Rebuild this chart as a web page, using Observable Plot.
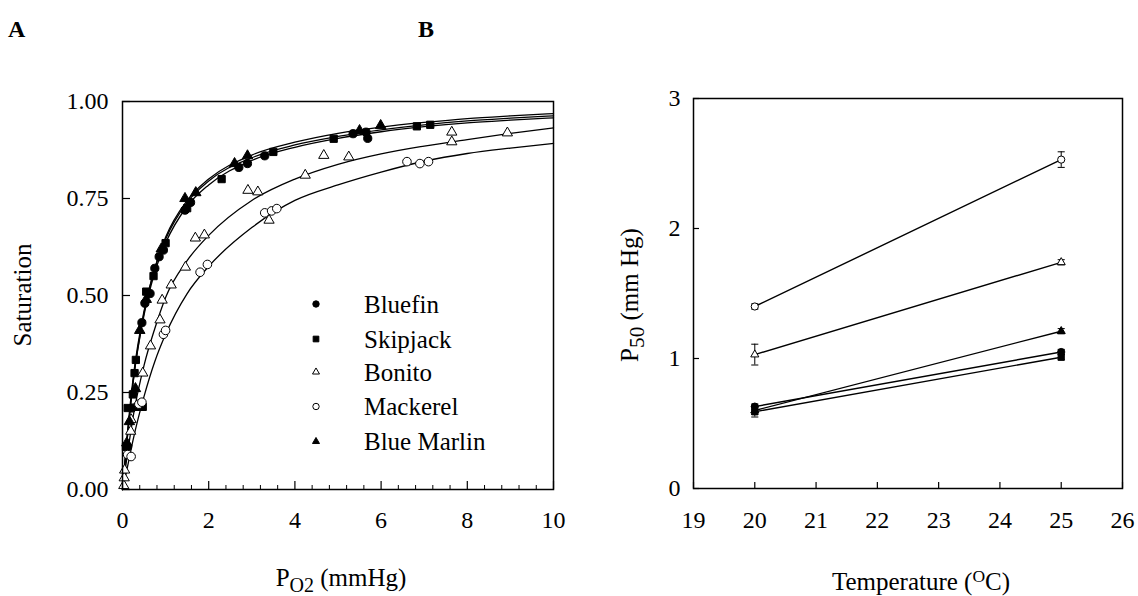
<!DOCTYPE html>
<html><head><meta charset="utf-8">
<script src="https://cdn.jsdelivr.net/npm/d3@7"></script>
<script src="https://cdn.jsdelivr.net/npm/@observablehq/plot@0.6"></script>
<style>
html,body{margin:0;padding:0;background:#fff;}
#wrap{position:relative;width:1138px;height:596px;font-family:'Liberation Serif',serif;color:#000;overflow:hidden;background:#fff}
.abs{position:absolute;white-space:nowrap;line-height:1.25;font-family:'Liberation Serif',serif}
.rot{transform:translate(-50%,-50%) rotate(-90deg)}
.lo{position:relative;top:0.3em}
.hi{position:relative;top:-0.45em}
</style></head><body><div id="wrap"></div>
<script>
// ---------------- Panel A data ----------------
const speciesNames = ["Bluefin", "Skipjack", "Bonito", "Mackerel", "Blue Marlin"];
const pO2Grid      = [0, 0.1, 0.25, 0.5, 0.75, 1, 1.5, 2, 3, 4, 5, 6, 7, 8, 9, 10];
const fitBluefin   = [0, 0.12, 0.28, 0.45, 0.56, 0.635, 0.73, 0.785, 0.848, 0.882, 0.905, 0.922, 0.935, 0.945, 0.952, 0.958];
const fitSkipjack  = [0, 0.13, 0.29, 0.46, 0.57, 0.645, 0.74, 0.795, 0.855, 0.888, 0.91, 0.927, 0.94, 0.95, 0.957, 0.963];
const fitBonito    = [0, 0.08, 0.19, 0.32, 0.415, 0.495, 0.59, 0.655, 0.745, 0.80, 0.838, 0.865, 0.885, 0.902, 0.918, 0.932];
const fitMackerel  = [0, 0.05, 0.13, 0.24, 0.33, 0.40, 0.505, 0.575, 0.675, 0.745, 0.785, 0.818, 0.846, 0.866, 0.88, 0.892];
const fitMarlin    = [0, 0.12, 0.28, 0.455, 0.57, 0.65, 0.745, 0.80, 0.862, 0.895, 0.918, 0.934, 0.946, 0.956, 0.963, 0.969];

const ptsBluefin  = [[0.12,0.11],[0.22,0.21],[0.45,0.43],[0.52,0.48],[0.64,0.505],[0.75,0.57],[0.85,0.60],[0.95,0.617],[1.45,0.72],[1.58,0.74],[2.7,0.83],[2.9,0.84],[3.3,0.86],[5.35,0.917],[5.65,0.921],[5.69,0.905]];
const ptsSkipjack = [[0.08,0.11],[0.12,0.21],[0.24,0.245],[0.28,0.30],[0.31,0.334],[0.35,0.213],[0.42,0.213],[0.47,0.213],[0.55,0.51],[0.72,0.55],[1.0,0.635],[1.5,0.725],[2.3,0.80],[3.5,0.87],[4.9,0.904],[6.83,0.936],[7.14,0.94]];
const ptsBonito   = [[0.03,0.01],[0.04,0.03],[0.05,0.05],[0.19,0.15],[0.2,0.18],[0.47,0.30],[0.65,0.37],[0.87,0.437],[0.92,0.488],[1.13,0.527],[1.46,0.573],[1.69,0.648],[1.9,0.656],[2.91,0.771],[3.14,0.767],[3.4,0.694],[4.24,0.81],[4.67,0.861],[5.25,0.857],[7.64,0.921],[7.64,0.896],[8.93,0.919]];
const ptsMackerel = [[0.12,0.09],[0.2,0.085],[0.38,0.22],[0.45,0.225],[0.95,0.40],[1.0,0.41],[1.8,0.56],[1.97,0.58],[3.3,0.713],[3.46,0.718],[3.58,0.724],[6.6,0.845],[6.9,0.84],[7.1,0.845]];
const ptsMarlin   = [[0.1,0.12],[0.16,0.175],[0.3,0.26],[0.4,0.41],[0.55,0.49],[0.9,0.62],[1.45,0.75],[1.7,0.765],[2.6,0.84],[2.9,0.86],[5.5,0.925],[5.99,0.938]];

const xMajorA = [0, 2, 4, 6, 8, 10];
const xMinorA = [0.4, 0.8, 1.2, 1.6, 2.4, 2.8, 3.2, 3.6, 4.4, 4.8, 5.2, 5.6, 6.4, 6.8, 7.2, 7.6, 8.4, 8.8, 9.2, 9.6];
const yMajorA = [0, 0.25, 0.5, 0.75, 1];
const yTickLabelsA = ["0.00", "0.25", "0.50", "0.75", "1.00"];

// ---------------- Panel B data ----------------
const tempsB       = [20, 25];
const p50Bluefin   = [0.63, 1.05];
const p50Skipjack  = [0.59, 1.01];
const p50Bonito    = [1.03, 1.74];
const p50Mackerel  = [1.40, 2.53];
const p50Marlin    = [0.60, 1.21];
const errBluefin   = [0.02, 0.02];
const errSkipjack  = [0.04, 0.02];
const errBonito    = [0.08, 0.02];
const errMackerel  = [0.02, 0.06];
const errMarlin    = [0.03, 0.02];
const xTicksB = [19, 20, 21, 22, 23, 24, 25, 26];
const yTicksB = [0, 1, 2, 3];

// ---------------- build tables ----------------
const fits = {"Bluefin": fitBluefin, "Skipjack": fitSkipjack, "Bonito": fitBonito, "Mackerel": fitMackerel, "Blue Marlin": fitMarlin};
const pts  = {"Bluefin": ptsBluefin, "Skipjack": ptsSkipjack, "Bonito": ptsBonito, "Mackerel": ptsMackerel, "Blue Marlin": ptsMarlin};
const p50  = {"Bluefin": p50Bluefin, "Skipjack": p50Skipjack, "Bonito": p50Bonito, "Mackerel": p50Mackerel, "Blue Marlin": p50Marlin};
const errs = {"Bluefin": errBluefin, "Skipjack": errSkipjack, "Bonito": errBonito, "Mackerel": errMackerel, "Blue Marlin": errMarlin};
const symbolOf = {"Bluefin": "circle", "Skipjack": "square", "Bonito": "triangle", "Mackerel": "circle", "Blue Marlin": "triangle"};
const filledOf = {"Bluefin": true, "Skipjack": true, "Bonito": false, "Mackerel": false, "Blue Marlin": true};
const rA = {"Bluefin": 4.1, "Skipjack": 4.1, "Bonito": 3.8, "Mackerel": 4.3, "Blue Marlin": 3.9};
const rB = {"Bluefin": 3.6, "Skipjack": 3.5, "Bonito": 3.0, "Mackerel": 3.6, "Blue Marlin": 3.0};

const curveRows = speciesNames.flatMap(sp => pO2Grid.map((x, i) => ({sp, x, s: fits[sp][i]})));
const pointRows = speciesNames.flatMap(sp => pts[sp].map(([x, s]) => ({sp, x, s})));
const bRows = speciesNames.flatMap(sp => tempsB.map((t, i) => ({sp, t, v: p50[sp][i], e: errs[sp][i]})));

const serif = "Liberation Serif";
const capSymbol = {draw(ctx, size) { const w = Math.sqrt(size) / 2; ctx.moveTo(-w, 0); ctx.lineTo(w, 0); }};

// ---------------- Panel A ----------------
const A = {w: 570, l: 122, r: 17, t: 101, b: 107};
const aPlotW = A.w - A.l - A.r, aPlotH = 596 - A.t - A.b;
const chartA = Plot.plot({
  width: A.w, height: 596,
  marginLeft: A.l, marginRight: A.r, marginTop: A.t, marginBottom: A.b,
  style: {fontFamily: serif, fontSize: "24px", color: "#000", background: "none", overflow: "visible"},
  x: {domain: [0, 10], label: null},
  y: {domain: [0, 1], label: null},
  marks: [
    Plot.axisX({ticks: xMajorA, tickFormat: d => String(d), tickSize: 0, tickPadding: 21, label: null, fontSize: 24, fontFamily: serif}),
    Plot.axisY({ticks: yMajorA, tickFormat: (d, i) => yTickLabelsA[i], tickSize: 0, tickPadding: 14, label: null, fontSize: 24, fontFamily: serif}),
    Plot.line(curveRows, {x: "x", y: "s", z: "sp", curve: "monotone-x", stroke: "black", strokeWidth: 1.3}),
    ...speciesNames.map(sp => Plot.dot(pointRows.filter(d => d.sp === sp), {
      x: "x", y: "s", symbol: symbolOf[sp], r: rA[sp],
      fill: filledOf[sp] ? "black" : "white", stroke: "black", strokeWidth: 1
    })),
    Plot.tickX(xMinorA, {x: d => d, insetTop: aPlotH - 4, strokeWidth: 1}),
    Plot.tickX(xMajorA, {x: d => d, insetTop: aPlotH - 8, strokeWidth: 1.2}),
    Plot.tickY(yMajorA, {y: d => d, insetRight: aPlotW - 8, strokeWidth: 1.2}),
    Plot.frame({stroke: "black", strokeWidth: 1.5})
  ]
});

// ---------------- Panel B ----------------
const B = {x0: 570, w: 568, l: 123, r: 16, t: 98, b: 108};
const bPlotW = B.w - B.l - B.r, bPlotH = 596 - B.t - B.b;
const chartB = Plot.plot({
  width: B.w, height: 596,
  marginLeft: B.l, marginRight: B.r, marginTop: B.t, marginBottom: B.b,
  style: {fontFamily: serif, fontSize: "24px", color: "#000", background: "none", overflow: "visible"},
  x: {domain: [19, 26], label: null},
  y: {domain: [0, 3], label: null},
  marks: [
    Plot.axisX({ticks: xTicksB, tickFormat: d => String(d), tickSize: 0, tickPadding: 22, label: null, fontSize: 24, fontFamily: serif}),
    Plot.axisY({ticks: yTicksB, tickFormat: d => String(d), tickSize: 0, tickPadding: 13, label: null, fontSize: 24, fontFamily: serif}),
    Plot.line(bRows, {x: "t", y: "v", z: "sp", stroke: "black", strokeWidth: 1.4}),
    Plot.ruleX(bRows, {x: "t", y1: d => d.v - d.e, y2: d => d.v + d.e, stroke: "black", strokeWidth: 1}),
    Plot.dot(bRows, {x: "t", y: d => d.v + d.e, symbol: capSymbol, r: 4, stroke: "black", fill: "none", strokeWidth: 1}),
    Plot.dot(bRows, {x: "t", y: d => d.v - d.e, symbol: capSymbol, r: 4, stroke: "black", fill: "none", strokeWidth: 1}),
    ...speciesNames.map(sp => Plot.dot(bRows.filter(d => d.sp === sp), {
      x: "t", y: "v", symbol: symbolOf[sp], r: rB[sp],
      fill: filledOf[sp] ? "black" : "white", stroke: "black", strokeWidth: 1
    })),
    Plot.tickX(xTicksB, {x: d => d, insetTop: bPlotH - 6, strokeWidth: 1.2}),
    Plot.tickY(yTicksB, {y: d => d, insetRight: bPlotW - 6, strokeWidth: 1.2}),
    Plot.frame({stroke: "black", strokeWidth: 1.5})
  ]
});

const wrap = document.getElementById("wrap");
chartA.style.position = "absolute"; chartA.style.left = "0px"; chartA.style.top = "0px";
chartB.style.position = "absolute"; chartB.style.left = B.x0 + "px"; chartB.style.top = "0px";
wrap.appendChild(chartA);
wrap.appendChild(chartB);

// ---------------- text overlays ----------------
function addText(html, css, cls) {
  const d = document.createElement("div");
  d.className = "abs" + (cls ? " " + cls : "");
  d.innerHTML = html;
  Object.assign(d.style, css);
  wrap.appendChild(d);
  return d;
}
addText("A", {left: "8px", top: "14px", fontSize: "24px", fontWeight: "bold"});
addText("B", {left: "418px", top: "14px", fontSize: "24px", fontWeight: "bold"});
addText("Saturation", {left: "23px", top: "295px", fontSize: "25px"}, "rot");
addText('P<span class="lo" style="font-size:0.8em">O2</span> (mmHg)', {left: "341px", top: "578px", fontSize: "25px", transform: "translate(-50%,-50%)"});
addText('P<span class="lo" style="font-size:0.85em">50</span> (mm Hg)', {left: "630px", top: "295px", fontSize: "25px"}, "rot");
addText('Temperature (<span class="hi" style="font-size:0.7em">O</span>C)', {left: "921px", top: "582px", fontSize: "25px", transform: "translate(-50%,-50%)"});

// ---------------- legend (panel A) ----------------
const legendRowY = [304, 339, 372, 406.5, 441.5];
const legR = {"Bluefin": 3.2, "Skipjack": 3.2, "Bonito": 2.6, "Mackerel": 3.2, "Blue Marlin": 2.6};
const legSvg = d3.select(wrap).append("svg")
  .attr("width", 1138).attr("height", 596)
  .style("position", "absolute").style("left", "0px").style("top", "0px");
const symMap = {circle: d3.symbolCircle, square: d3.symbolSquare, triangle: d3.symbolTriangle};
speciesNames.forEach((sp, i) => {
  legSvg.append("path")
    .attr("d", d3.symbol(symMap[symbolOf[sp]], Math.PI * legR[sp] * legR[sp])())
    .attr("transform", `translate(316,${legendRowY[i]})`)
    .attr("fill", filledOf[sp] ? "black" : "white").attr("stroke", "black").attr("stroke-width", 1);
  legSvg.append("text")
    .attr("x", 364).attr("y", legendRowY[i]).attr("dy", "0.35em")
    .attr("font-family", serif).attr("font-size", 25).attr("fill", "black")
    .text(sp);
});
</script></body></html>
